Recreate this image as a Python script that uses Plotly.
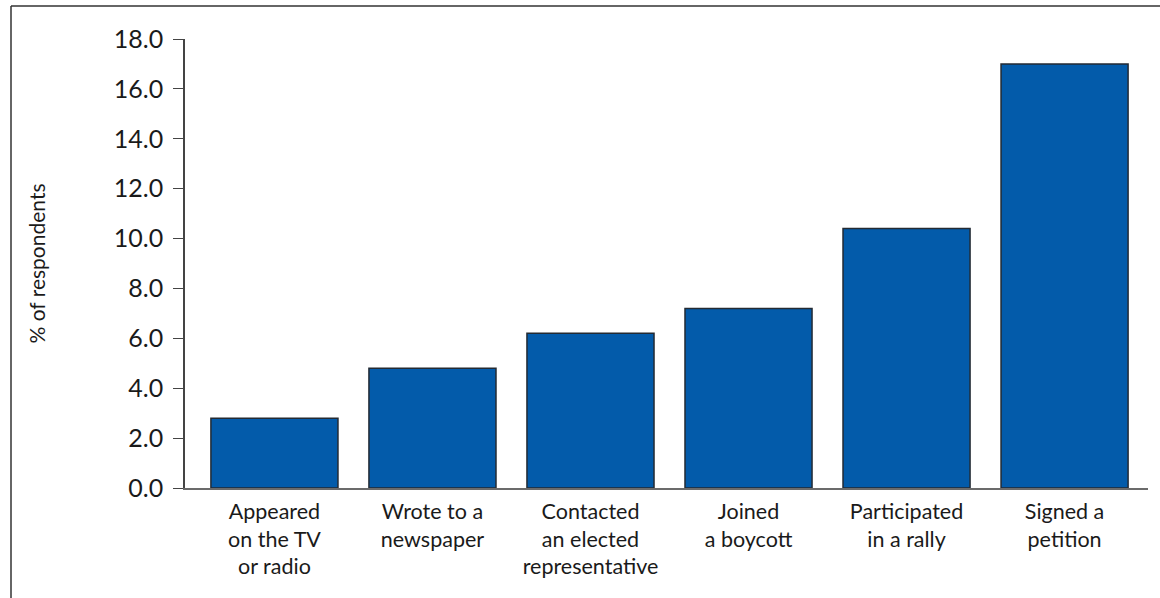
import plotly.graph_objects as go

# Survey results: share of respondents who took each action
categories = [
    "Appeared<br>on the TV<br>or radio",
    "Wrote to a<br>newspaper",
    "Contacted<br>an elected<br>representative",
    "Joined<br>a boycott",
    "Participated<br>in a rally",
    "Signed a<br>petition",
]
values = [2.8, 4.8, 6.2, 7.2, 10.4, 17.0]
y_ticks = [0, 2, 4, 6, 8, 10, 12, 14, 16, 18]

FONT = "Lato, 'Open Sans', sans-serif"
TEXT = "#1a1a1a"

W, H = 1160, 598
L, R, T, B = 185, 12, 39, 110

fig = go.Figure(
    go.Bar(
        x=list(range(len(categories))),
        y=values,
        width=0.804,
        marker=dict(color="#035BAA", line=dict(color="#232a33", width=1.5)),
        hoverinfo="y",
    )
)

fig.update_layout(
    width=W,
    height=H,
    margin=dict(l=L, r=R, t=T, b=B),
    paper_bgcolor="white",
    plot_bgcolor="white",
    showlegend=False,
    font=dict(family=FONT, color=TEXT, size=22),
    xaxis=dict(
        range=[-0.566, 5.528],
        tickmode="array",
        tickvals=list(range(len(categories))),
        ticktext=categories,
        ticks="",
        showgrid=False,
        zeroline=False,
        showline=True,
        linecolor="#6b6b6b",
        linewidth=1.5,
        tickfont=dict(size=21.5),
        ticklabelstandoff=3,
        fixedrange=True,
    ),
    yaxis=dict(
        range=[0, 18],
        tickmode="array",
        tickvals=y_ticks,
        ticktext=[f"{v:.1f}" for v in y_ticks],
        ticks="outside",
        ticklen=10,
        tickwidth=1.2,
        tickcolor="#444",
        showgrid=False,
        zeroline=False,
        showline=True,
        linecolor="#444",
        linewidth=1.5,
        tickfont=dict(size=25),
        ticklabelstandoff=5,
        title=dict(text="% of respondents", font=dict(size=21), standoff=62),
        fixedrange=True,
    ),
)

# Frame lines along the left and top edges of the figure
x_left = (11 - L) / (W - L - R)
y_top = 1 + (T - 6) / (H - T - B)
fig.add_shape(type="line", xref="paper", yref="paper",
              x0=x_left, x1=x_left, y0=-2, y1=y_top,
              line=dict(color="#333", width=1.5))
fig.add_shape(type="line", xref="paper", yref="paper",
              x0=x_left, x1=2, y0=y_top, y1=y_top,
              line=dict(color="#333", width=1.5))

fig.write_html("out.html")
